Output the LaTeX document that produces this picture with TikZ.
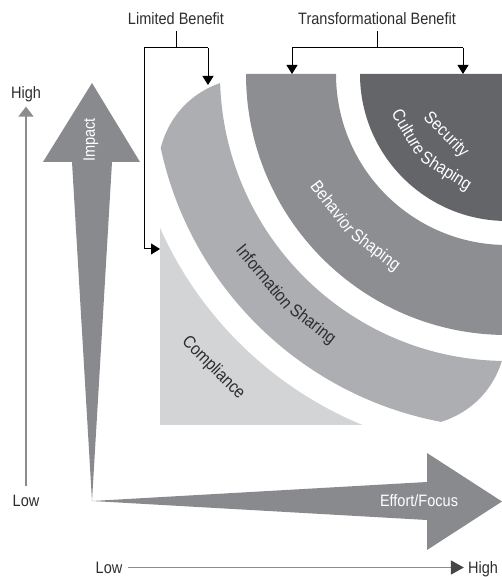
\documentclass[tikz,border=0pt]{standalone}
\usepackage{fontspec}
\setmainfont{Liberation Sans}[FakeStretch=0.88]
\usetikzlibrary{arrows.meta,calc}
\definecolor{secC}{RGB}{100,101,104}
\definecolor{behC}{RGB}{141,142,145}
\definecolor{infC}{RGB}{173,174,177}
\definecolor{cmpC}{RGB}{211,212,214}
\definecolor{arrC}{RGB}{137,138,141}
\definecolor{axC}{RGB}{140,140,140}
\definecolor{tipC}{RGB}{70,70,70}
\definecolor{txtD}{RGB}{45,45,45}
\newcommand{\lblfont}{\fontsize{16.5}{19}\selectfont}
\newcommand{\ringfont}{\fontsize{17.5}{20}\selectfont}
\begin{document}
\begin{tikzpicture}[x=1pt,y=1pt,
  lbl/.style={font=\lblfont, text=txtD, inner sep=0pt, anchor=base},
  inlbl/.style={font=\lblfont, text=white, inner sep=0pt},
  ringw/.style={font=\ringfont, text=white, inner sep=0pt, anchor=base},
  ringd/.style={font=\ringfont, text=txtD, inner sep=0pt, anchor=base},
  bracket/.style={line width=1pt, black},
  brarrow/.style={bracket, -{Triangle[length=9pt,width=11pt]}},
  axisline/.style={line width=1.4pt, axC},
  bigarrow/.style={fill=arrC}
]
\useasboundingbox (0,0) rectangle (502,577);
\coordinate (C) at (507,503);
\begin{scope}
  \clip (0,0) rectangle (502,577);
  % compliance
  \begin{scope}
    \clip (160,152) rectangle (507,503);
    \fill[cmpC, even odd rule] (100,100) rectangle (620,620) (C) circle[radius=379.5];
  \end{scope}
  % information sharing
  \begin{scope}
    \clip[rotate around={-45:(332,325)}] (332,325) ellipse[x radius=208, y radius=135];
    \fill[infC, even odd rule] (C) circle[radius=354] (C) circle[radius=287];
  \end{scope}
  % behavior shaping
  \fill[behC] (246,503) arc[start angle=180, end angle=360, radius=261]
     -- (678,503) arc[start angle=0, end angle=-180, radius=171] -- cycle;
  % security culture shaping
  \fill[secC] (360,503) arc[start angle=180, end angle=360, radius=147] -- cycle;
\end{scope}

% ring texts (words set along arcs round C)
\node[ringw, rotate=315] (sec1) at ($(C)+(225:91)$) {Security};
\node[ringw, rotate=300.5] (cul1) at ($(C)+(210.5:120)$) {Culture};
\node[ringw, rotate=327.9] (cul2) at ($(C)+(237.9:120)$) {Shaping};
\node[ringw, rotate=307.3] (beh1) at ($(C)+(217.3:225)$) {Behavior};
\node[ringw, rotate=323.3] (beh2) at ($(C)+(233.3:225)$) {Shaping};
\node[ringd, rotate=309.9] (inf1) at ($(C)+(219.9:322)$) {Information};
\node[ringd, rotate=322.2] (inf2) at ($(C)+(232.2:322)$) {Sharing};
\node[ringd, rotate=315] (cmp1) at ($(C)+(225:420)$) {Compliance};

% big arrows
\fill[bigarrow] (92,494) -- (140,415) -- (112,415) -- (92,76) -- (72,415) -- (43,415) -- cycle;
\fill[bigarrow] (92,76) -- (427,95) -- (427,124) -- (502,75.5) -- (427,27) -- (427,57) -- cycle;
\node[inlbl, rotate=90] (impact) at (91,437) {Impact};
\node[inlbl, anchor=base] (effort) at (419,70) {Effort/Focus};

% left axis
\node[lbl] (hiL) at (26,478) {High};
\node[lbl] (loL) at (26,70) {Low};
\draw[axisline, -{Triangle[length=10pt,width=15pt]}, shorten <=9pt, shorten >=4pt] (loL.north) -- (hiL.south);

% bottom axis
\node[lbl] (loB) at (109,4) {Low};
\node[lbl] (hiB) at (483,4) {High};
\draw[axisline, -{Triangle[length=13pt,width=14pt,fill=tipC,color=tipC]}, shorten <=5pt, shorten >=4pt]
  ([yshift=5.5pt]loB.base east) -- ([yshift=5.5pt]hiB.base west);

% brackets
\node[lbl] (lim) at (176,552) {Limited Benefit};
\node[lbl] (trans) at (377,552) {Transformational Benefit};
\coordinate (limJ) at (176,529);
\coordinate (limL) at (144,529);
\coordinate (limR) at (208,529);
\coordinate (infoTop) at (208,492);
\coordinate (cmpTip) at (160,328);
\coordinate (trJ) at (377,529);
\coordinate (trL) at (292,529);
\coordinate (trR) at (463,529);
\coordinate (behTop) at (292,503);
\coordinate (secTop) at (463,503);
\draw[bracket, shorten <=6pt] (lim.south) -- (limJ);
\draw[bracket] (limL) -- (limR);
\draw[brarrow] (limR) -- (infoTop);
\draw[brarrow] (limL) |- (cmpTip);
\draw[bracket, shorten <=6pt] (trans.south) -- (trJ);
\draw[bracket] (trL) -- (trR);
\draw[brarrow] (trL) -- (behTop);
\draw[brarrow] (trR) -- (secTop);
\end{tikzpicture}
\end{document}
